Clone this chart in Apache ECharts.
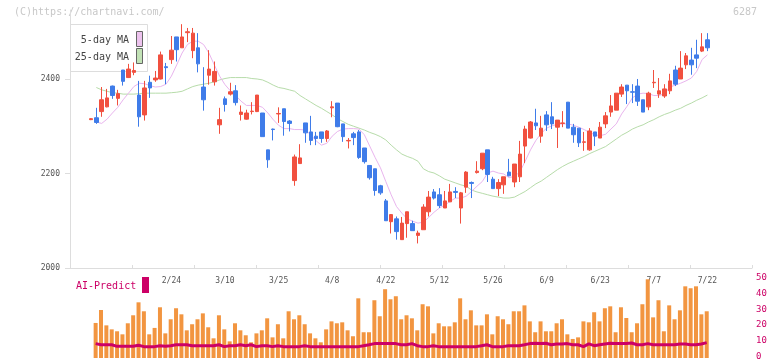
<!DOCTYPE html>
<html>
<head>
<meta charset="utf-8">
<script src="https://cdn.jsdelivr.net/npm/echarts@6/dist/echarts.min.js"></script>
<style>
  html, body { margin: 0; padding: 0; background: #fff; }
  #chart { width: 772px; height: 361px; }
</style>
</head>
<body>
<div id="chart"></div>
<script>
// trading days (2026)
var dates = ['1/30',
  '2/2','2/3','2/4','2/5','2/6','2/9','2/10','2/12','2/13','2/16','2/17','2/18','2/19','2/20','2/24','2/25','2/26','2/27',
  '3/2','3/3','3/4','3/5','3/6','3/9','3/10','3/11','3/12','3/13','3/16','3/17','3/18','3/19','3/23','3/24','3/25','3/26','3/27','3/30','3/31',
  '4/1','4/2','4/3','4/6','4/7','4/8','4/9','4/10','4/13','4/14','4/15','4/16','4/17','4/20','4/21','4/22','4/23','4/24','4/27','4/28','4/30',
  '5/1','5/7','5/8','5/11','5/12','5/13','5/14','5/15','5/18','5/19','5/20','5/21','5/22','5/25','5/26','5/27','5/28','5/29',
  '6/1','6/2','6/3','6/4','6/5','6/8','6/9','6/10','6/11','6/12','6/15','6/16','6/17','6/18','6/19','6/22','6/23','6/24','6/25','6/26','6/29','6/30',
  '7/1','7/2','7/3','7/6','7/7','7/8','7/9','7/10','7/13','7/14','7/15','7/16','7/17','7/21','7/22'];
var labelDates = ['2/24','3/10','3/25','4/8','4/22','5/12','5/26','6/9','6/23','7/7','7/22'];

var open = [2314,2318,2331,2341,2385,2359,2419,2403,2414,2366,2324,2393,2398,2400,2426,2441,2489,2466,2498,2460,
  2466,2383,2408,2394,2303,2358,2368,2375,2325,2315,2331,2331,2328,2250,2294,2326,2337,2311,2185,2221,
  2307,2288,2279,2288,2274,2339,2349,2305,2269,2284,2288,2254,2217,2210,2174,2142,2098,2104,2060,2094,
  2094,2069,2081,2119,2161,2155,2127,2140,2162,2127,2171,2181,2202,2210,2250,2188,2168,2176,2203,2182,
  2193,2258,2275,2307,2279,2324,2320,2298,2306,2351,2298,2296,2266,2250,2288,2275,2305,2330,2334,2368,
  2387,2373,2385,2356,2341,2392,2368,2364,2375,2419,2400,2430,2440,2451,2459,2483];
var close = [2316,2308,2356,2360,2365,2369,2395,2421,2418,2320,2381,2381,2402,2451,2424,2461,2462,2489,2500,2497,
  2432,2356,2421,2416,2314,2346,2373,2350,2330,2328,2332,2366,2278,2229,2293,2327,2310,2306,2235,2233,
  2286,2270,2274,2274,2290,2341,2299,2278,2270,2276,2234,2225,2191,2164,2159,2100,2113,2077,2095,2119,
  2079,2074,2129,2150,2148,2132,2142,2161,2160,2159,2203,2179,2205,2243,2198,2168,2181,2193,2195,2220,
  2241,2294,2309,2301,2296,2303,2305,2313,2307,2296,2282,2265,2267,2290,2279,2298,2322,2343,2370,2383,
  2375,2372,2353,2330,2370,2393,2375,2379,2396,2389,2423,2449,2430,2444,2468,2466];
var low = [2313,2305,2320,2340,2358,2344,2386,2402,2408,2299,2312,2360,2394,2399,2389,2432,2437,2466,2478,2444,
  2414,2333,2388,2386,2284,2331,2365,2344,2312,2314,2325,2330,2278,2212,2270,2307,2280,2289,2174,2221,
  2265,2260,2260,2265,2267,2319,2298,2267,2253,2260,2231,2221,2187,2153,2155,2100,2073,2060,2060,2064,
  2079,2052,2081,2109,2145,2127,2127,2140,2148,2094,2159,2148,2200,2207,2182,2168,2152,2157,2194,2171,
  2182,2222,2274,2292,2265,2290,2294,2254,2298,2296,2265,2256,2248,2248,2258,2275,2296,2320,2334,2362,
  2347,2349,2343,2330,2334,2381,2360,2360,2368,2385,2400,2421,2409,2423,2457,2459];
var high = [2317,2339,2383,2379,2386,2377,2419,2432,2435,2396,2396,2407,2417,2458,2434,2491,2489,2516,2508,2508,
  2497,2425,2461,2437,2339,2363,2392,2387,2344,2335,2351,2366,2328,2250,2295,2340,2337,2313,2240,2262,
  2307,2322,2288,2288,2292,2353,2349,2305,2275,2288,2292,2254,2217,2210,2176,2146,2114,2109,2108,2119,
  2100,2079,2135,2163,2167,2169,2163,2178,2171,2161,2205,2183,2226,2243,2250,2193,2188,2193,2231,2220,
  2269,2301,2311,2337,2322,2332,2351,2313,2332,2351,2305,2296,2288,2296,2288,2309,2330,2366,2370,2389,
  2387,2389,2400,2356,2373,2419,2402,2389,2411,2428,2459,2455,2466,2483,2497,2497];

var ma5 = ['-',2309,2306,2315,2328,2340,2356,2370,2384,2391,2390,2386,2383,2384,2389,2406,2430,2455,2473,2480,
  2480,2473,2455,2430,2406,2388,2375,2365,2353,2344,2344,2344,2340,2328,2314,2302,2295,2295,2293,2293,
  2292,2282,2269,2260,2264,2279,2289,2294,2295,2295,2294,2282,2258,2234,2212,2183,2155,2130,2116,2104,
  2099,2095,2097,2107,2118,2127,2133,2141,2148,2148,2152,2162,2173,2183,2201,2205,2201,2199,2191,2194,
  2203,2226,2250,2270,2285,2296,2301,2304,2305,2305,2302,2298,2293,2287,2282,2280,2283,2294,2305,2326,
  2342,2360,2368,2370,2369,2365,2365,2369,2383,2387,2391,2396,2402,2416,2441,2451];
var ma25 = ['-',2382,2377,2374,2371,2370,2368,2368,2368,2369,2370,2370,2370,2370,2370,2371,2372,2374,2379,2384,
  2387,2389,2391,2394,2398,2401,2403,2403,2403,2403,2401,2400,2398,2393,2387,2382,2380,2377,2374,2365,
  2358,2351,2344,2338,2331,2324,2316,2310,2304,2300,2296,2292,2287,2283,2278,2271,2260,2250,2241,2236,
  2232,2226,2210,2204,2201,2195,2188,2184,2180,2176,2173,2165,2161,2158,2155,2152,2150,2148,2148,2150,
  2156,2162,2170,2178,2184,2192,2200,2208,2215,2221,2226,2231,2236,2242,2247,2252,2257,2265,2273,2281,
  2287,2294,2299,2303,2309,2314,2320,2325,2329,2334,2338,2344,2349,2355,2360,2366];

var aiBars = ['-',21.9,30.0,20.4,17.9,16.7,14.8,21.7,26.7,34.8,29.2,14.8,18.8,31.7,15.4,24.2,31.1,27.3,17.3,21.1,
  24.2,27.9,19.2,12.3,26.7,17.9,10.4,21.7,17.3,14.2,9.8,15.4,17.3,24.8,12.9,21.1,12.3,29.2,24.2,26.7,
  21.1,15.4,12.3,9.8,17.9,22.9,21.7,22.3,17.3,13.6,37.3,16.1,16.1,36.1,26.1,43.0,36.7,38.6,24.2,26.7,
  24.8,17.3,33.6,32.3,15.4,21.7,19.8,19.8,22.3,37.3,24.2,29.8,20.4,20.4,27.3,14.8,26.1,24.2,21.1,29.2,
  29.2,32.9,22.9,16.1,22.9,16.7,16.7,21.7,24.2,14.8,11.9,12.9,22.9,22.3,28.6,22.9,31.1,32.3,16.1,31.7,
  25.0,16.1,21.7,33.6,49.2,25.4,36.1,16.7,32.9,24.2,29.8,44.8,43.6,44.8,27.3,29.2];
var aiLine = ['-',9.0,8.3,8.3,8.3,7.3,7.3,7.3,7.3,8.0,7.1,7.1,7.1,7.7,7.3,7.7,8.3,8.3,8.3,7.7,
  7.7,7.7,7.7,7.7,8.3,7.1,7.7,7.7,8.3,7.7,8.3,7.1,7.7,7.7,7.1,7.7,7.1,7.1,7.1,7.1,
  7.7,7.1,7.1,7.1,7.1,7.1,7.1,7.1,7.1,7.1,7.1,7.7,8.3,9.0,9.0,9.0,9.0,9.0,8.3,8.3,
  9.0,7.7,7.1,7.1,7.7,7.1,7.1,7.1,7.1,7.1,7.1,7.1,7.1,7.7,8.3,7.1,7.1,7.1,7.7,7.7,
  7.7,8.3,9.0,9.2,9.0,9.2,8.3,8.8,8.8,9.0,8.3,8.3,7.1,8.8,7.7,8.3,8.8,9.2,9.0,9.0,
  9.0,9.4,8.3,8.3,9.0,8.3,8.3,8.3,8.3,8.3,8.8,8.8,8.3,8.3,8.8,9.6];

var candles = open.map(function (o, i) { return [o, close[i], low[i], high[i]]; });

var RED = '#f1503f', BLUE = '#3f7ce9', CRIMSON = '#cc0066';
var MONO = '"DejaVu Sans Mono", monospace';
var yMin = 2000, yMax = 2546;

var chart = echarts.init(document.getElementById('chart'));
chart.setOption({
  animation: false,
  backgroundColor: '#fff',
  textStyle: { fontFamily: MONO },
  grid: [
    { left: 70, top: 10, width: 682, height: 258 },
    { left: 88.3, top: 10, width: 621.8, height: 258 },
    { left: 87.6, top: 278, width: 621.8, height: 80 },
    { left: 70, top: 278, width: 682, height: 80 }
  ],
  xAxis: [
    { gridIndex: 0, type: 'value', min: 0, max: 11, interval: 1,
      axisLine: { lineStyle: { color: '#ddd' } },
      axisTick: { inside: true, length: 3, lineStyle: { color: '#ddd' } },
      axisLabel: { show: false }, splitLine: { show: false } },
    { gridIndex: 1, type: 'category', data: dates,
      axisLine: { show: false }, axisTick: { show: false },
      axisLabel: { interval: function (i, v) { return labelDates.indexOf(v) >= 0; },
        fontSize: 8, color: '#555', margin: 9, fontFamily: MONO } },
    { gridIndex: 2, type: 'category', data: dates, show: false },
    { gridIndex: 3, type: 'value', show: false }
  ],
  yAxis: [
    { gridIndex: 0, type: 'value', min: yMin, max: yMax, interval: 200,
      axisLine: { show: true, lineStyle: { color: '#ddd' } },
      axisTick: { show: true, length: 5, lineStyle: { color: '#ddd' } },
      axisLabel: { fontSize: 8, color: '#555', margin: 10, showMaxLabel: false, fontFamily: MONO,
        formatter: function (v) { return String(v); } },
      splitLine: { show: false } },
    { gridIndex: 1, type: 'value', min: yMin, max: yMax, show: false },
    { gridIndex: 2, type: 'value', min: 0, max: 50, show: false },
    { gridIndex: 3, type: 'value', min: 0, max: 50, interval: 10, position: 'right',
      axisLine: { show: false }, axisTick: { show: false }, splitLine: { show: false },
      axisLabel: { fontSize: 9, color: CRIMSON, margin: 4, fontFamily: MONO } }
  ],
  graphic: [
    { type: 'text', left: 14, top: 7, style: { text: '(C)https://chartnavi.com/', fill: '#c8c8c8', font: '10px ' + MONO } },
    { type: 'text', right: 15, top: 7, style: { text: '6287', fill: '#c8c8c8', font: '10px ' + MONO } },
    { type: 'rect', shape: { x: 70.5, y: 24.5, width: 77, height: 47 }, style: { fill: '#fff', stroke: '#ddd', lineWidth: 1 } },
    { type: 'text', x: 129, y: 40, style: { text: '5-day MA', fill: '#444', font: '10px ' + MONO, align: 'right', verticalAlign: 'middle' } },
    { type: 'rect', shape: { x: 136.5, y: 31.5, width: 6, height: 15 }, style: { fill: '#edc3ee', stroke: '#666', lineWidth: 1 } },
    { type: 'text', x: 129, y: 57, style: { text: '25-day MA', fill: '#444', font: '10px ' + MONO, align: 'right', verticalAlign: 'middle' } },
    { type: 'rect', shape: { x: 136.5, y: 48.5, width: 6, height: 15 }, style: { fill: '#c2e2b6', stroke: '#666', lineWidth: 1 } },
    { type: 'text', x: 76, y: 286, style: { text: 'AI-Predict', fill: CRIMSON, font: '10px ' + MONO, verticalAlign: 'middle' } },
    { type: 'rect', shape: { x: 142, y: 277, width: 7, height: 16 }, style: { fill: CRIMSON } }
  ],
  series: [
    { name: '25-day MA', type: 'line', xAxisIndex: 1, yAxisIndex: 1, data: ma25, symbol: 'none',
      lineStyle: { color: '#b7dcaa', width: 1 }, z: 3 },
    { name: '5-day MA', type: 'line', xAxisIndex: 1, yAxisIndex: 1, data: ma5, symbol: 'none',
      lineStyle: { color: '#e9b5ee', width: 1 }, z: 3 },
    { name: 'price', type: 'candlestick', xAxisIndex: 1, yAxisIndex: 1, data: candles, barWidth: 4,
      itemStyle: { color: RED, color0: BLUE, borderColor: RED, borderColor0: BLUE, borderWidth: 1 }, z: 4 },
    { name: 'AI', type: 'bar', xAxisIndex: 2, yAxisIndex: 2, data: aiBars, barWidth: 4,
      itemStyle: { color: '#f29540' }, z: 3 },
    { name: 'AI line', type: 'line', xAxisIndex: 2, yAxisIndex: 2, data: aiLine, symbol: 'none',
      lineStyle: { color: CRIMSON, width: 3 }, z: 4 }
  ]
});
</script>
</body>
</html>
